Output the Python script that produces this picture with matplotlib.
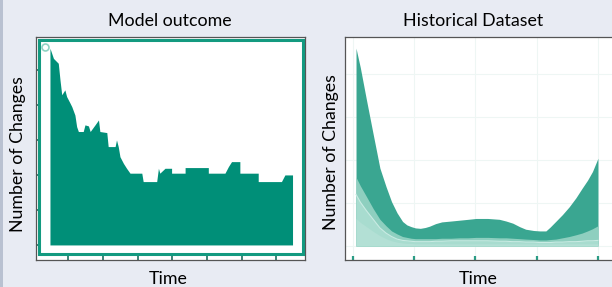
import matplotlib
matplotlib.use("Agg")
import matplotlib.pyplot as plt
from matplotlib.patches import Rectangle

plt.rcParams['font.family'] = ['Lato', 'DejaVu Sans']

# Model outcome: step-like profile of number of changes over time
model_t = [0.47, 0.57, 0.71, 0.76, 0.81, 0.90, 0.95, 1.05, 1.10, 1.19, 1.24, 1.29,
           1.43, 1.48, 1.58, 1.63, 1.77, 1.87, 1.91, 2.11, 2.15, 2.35, 2.39, 2.44,
           2.49, 2.59, 2.68, 2.78, 3.12, 3.16, 3.55, 3.60, 3.64, 3.79, 3.98, 3.98,
           4.37, 4.37, 5.04, 5.04, 5.52, 5.62, 5.71, 5.95, 5.95, 6.48, 6.48, 7.15,
           7.25, 7.47]
model_n = [5.62, 5.33, 5.19, 4.71, 4.29, 4.43, 4.24, 4.05, 3.95, 3.71, 3.38, 3.24,
           3.24, 3.43, 3.40, 3.24, 3.43, 3.57, 3.24, 3.21, 2.81, 2.81, 3.00, 2.81,
           2.52, 2.33, 2.19, 2.05, 2.05, 1.81, 1.81, 2.19, 2.05, 2.19, 2.19, 2.05,
           2.05, 2.21, 2.21, 2.05, 2.05, 2.24, 2.38, 2.38, 2.05, 2.05, 1.81, 1.81,
           2.00, 2.00]
start_t = [0.33]
start_n = [5.66]
model_xticks = [1, 2, 3, 4, 5, 6, 7]
model_yticks = [0, 1, 2, 3, 4, 5]

# Historical dataset: layered areas
hist_t = [0.05, 0.12, 0.22, 0.33, 0.44, 0.54, 0.63, 0.72, 0.81, 0.88,
          0.95, 1.02, 1.10, 1.18, 1.25, 1.35, 1.45, 1.60, 1.74, 1.88,
          2.01, 2.20, 2.39, 2.50, 2.61, 2.72, 2.82, 2.95, 3.05, 3.15,
          3.22, 3.31, 3.42, 3.53, 3.64, 3.74, 3.83, 3.91, 4.00]
hist_max = [4.60, 4.15, 3.40, 2.60, 1.81, 1.38, 1.03, 0.77, 0.57, 0.49,
            0.45, 0.42, 0.41, 0.43, 0.46, 0.52, 0.56, 0.58, 0.60, 0.62,
            0.64, 0.64, 0.62, 0.58, 0.53, 0.45, 0.39, 0.36, 0.35, 0.35,
            0.44, 0.57, 0.73, 0.91, 1.12, 1.34, 1.53, 1.73, 2.04]
hist_q2 = [1.60, 1.40, 1.15, 0.87, 0.62, 0.47, 0.35, 0.28, 0.22, 0.20,
           0.18, 0.17, 0.17, 0.17, 0.17, 0.17, 0.18, 0.18, 0.19, 0.19,
           0.20, 0.20, 0.19, 0.19, 0.18, 0.17, 0.16, 0.15, 0.14, 0.14,
           0.15, 0.16, 0.19, 0.22, 0.26, 0.30, 0.35, 0.40, 0.47]
hist_q3 = [1.20, 1.02, 0.82, 0.62, 0.42, 0.30, 0.22, 0.16, 0.13, 0.12,
           0.11, 0.10, 0.10, 0.10, 0.10, 0.11, 0.11, 0.12, 0.12, 0.12,
           0.12, 0.12, 0.11, 0.11, 0.10, 0.10, 0.09, 0.09, 0.08, 0.08,
           0.08, 0.09, 0.09, 0.10, 0.10, 0.11, 0.12, 0.12, 0.13]
hist_q4 = [0.64, 0.55, 0.45, 0.34, 0.24, 0.17, 0.12, 0.09, 0.07, 0.06,
           0.06, 0.05, 0.05, 0.05, 0.05, 0.05, 0.05, 0.05, 0.05, 0.05,
           0.05, 0.05, 0.05, 0.05, 0.05, 0.05, 0.05, 0.05, 0.05, 0.05,
           0.05, 0.05, 0.05, 0.05, 0.05, 0.05, 0.05, 0.05, 0.05]
hist_xticks = [0, 1, 2, 3, 4]
hist_yticks = [0, 1, 2, 3, 4]

teal = '#008f78'
bg = '#e8ebf3'

fig = plt.figure(figsize=(6.12, 2.87), dpi=100)
fig.patch.set_facecolor(bg)
fig.patches.append(Rectangle((0, 0), 3 / 612, 1, transform=fig.transFigure,
                             fc='#b9c1d1', ec='none'))

# left panel
ax1 = fig.add_axes([36 / 612, 27 / 287, 269 / 612, 223 / 287])
ax1.fill_between(model_t, model_n, 0, color=teal, lw=0, zorder=2)
ax1.plot(start_t, start_n, 'o', mfc='none', mec='#8fd3c3', ms=5, mew=1.2, zorder=3)
ax1.add_patch(Rectangle((0.013, 0.025), 0.981, 0.962, transform=ax1.transAxes,
                        fill=False, ec='#139a80', lw=2.2, zorder=4))
ax1.set_xlim(0.067, 7.83)
ax1.set_ylim(-0.43, 5.94)
ax1.set_xticks(model_xticks)
ax1.set_yticks(model_yticks)
ax1.tick_params(direction='in', length=3, width=1.2, color='#1d6e60',
                labelbottom=False, labelleft=False)
for s in ax1.spines.values():
    s.set_color('#555555')
    s.set_linewidth(0.9)

# right panel
ax2 = fig.add_axes([345 / 612, 27 / 287, 275 / 612, 223 / 287])
ax2.grid(True, color='#eef6f4', lw=0.8, zorder=0)
ax2.fill_between(hist_t, hist_max, 0, color='#3aa691', lw=0, zorder=2)
ax2.fill_between(hist_t, hist_q2, 0, color='#8ecfbf', lw=0, zorder=3)
ax2.fill_between(hist_t, hist_q3, 0, color='#a8dccf', lw=0, zorder=4)
ax2.plot(hist_t, hist_q3, color='#c9ebe3', lw=0.8, zorder=5)
ax2.fill_between(hist_t, hist_q4, 0, color='#b3e0d5', lw=0, zorder=5)
ax2.set_xlim(-0.13, 4.36)
ax2.set_ylim(-0.326, 4.86)
ax2.set_xticks(hist_xticks)
ax2.set_yticks(hist_yticks)
ax2.tick_params(direction='in', length=3, width=1.6, color='#2a9c85',
                labelbottom=False, labelleft=False, left=False)
ax2.set_axisbelow(True)
ax2.spines['right'].set_visible(False)
for s in ['left', 'top', 'bottom']:
    ax2.spines[s].set_color('#555555')
    ax2.spines[s].set_linewidth(0.9)

# labels
fs = 12.8
fig.text(169.5 / 612, 1 - 21 / 287, 'Model outcome', ha='center', va='center', fontsize=fs)
fig.text(473 / 612, 1 - 21 / 287, 'Historical Dataset', ha='center', va='center', fontsize=fs)
fig.text(18 / 612, 1 - 154 / 287, 'Number of Changes', rotation=90, ha='center',
         va='center', fontsize=fs)
fig.text(331 / 612, 1 - 152 / 287, 'Number of Changes', rotation=90, ha='center',
         va='center', fontsize=fs)
fig.text(168.5 / 612, 1 - 279 / 287, 'Time', ha='center', va='center', fontsize=fs)
fig.text(478 / 612, 1 - 279 / 287, 'Time', ha='center', va='center', fontsize=fs)

fig.savefig('out.png', dpi=100, facecolor=bg)
